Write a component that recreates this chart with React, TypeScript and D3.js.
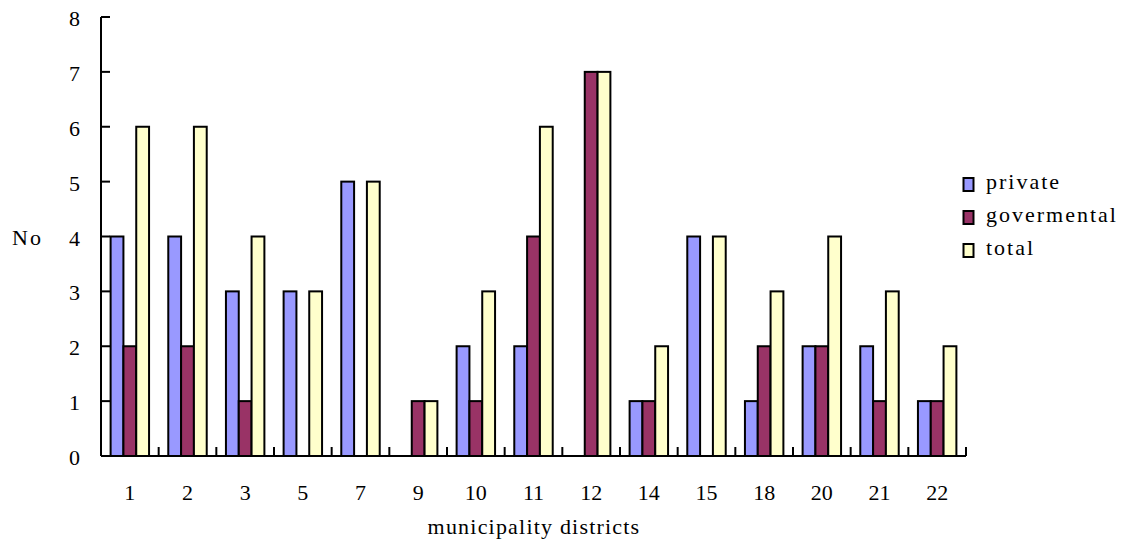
import React from "react";
import * as d3 from "d3";

const categories = ["1", "2", "3", "5", "7", "9", "10", "11", "12", "14", "15", "18", "20", "21", "22"];
const privateVals = [4, 4, 3, 3, 5, 0, 2, 2, 0, 1, 4, 1, 2, 2, 1];
const govVals = [2, 2, 1, 0, 0, 1, 1, 4, 7, 1, 0, 2, 2, 1, 1];
const totalVals = [6, 6, 4, 3, 5, 1, 3, 6, 7, 2, 4, 3, 4, 3, 2];
const seriesNames = ["private", "govermental", "total"];
const seriesColors = ["#9999FF", "#993366", "#FFFFCC"];
const yTicks = [0, 1, 2, 3, 4, 5, 6, 7, 8];

export default function App() {
  const W = 1128, H = 545;
  const left = 101, right = 966, top = 17, bottom = 456;
  const x = d3.scaleBand<string>().domain(categories).range([left, right]).paddingInner(0).paddingOuter(0);
  const y = d3.scaleLinear().domain([0, 8]).range([bottom, top]);
  const series = [privateVals, govVals, totalVals];
  const bw = x.bandwidth();
  const barW = bw / 4.5;
  const off = barW * 0.75;
  const font = "'Liberation Serif', 'Times New Roman', serif";
  const fs = 22;

  return (
    <svg width={W} height={H} style={{ position: "absolute", left: 0, top: 0 }} fontFamily={font}>
      <rect width={W} height={H} fill="#fff" />
      {categories.map((c, i) =>
        series.map((s, k) => {
          const v = s[i];
          if (v <= 0) return null;
          const x0 = (x(c) as number) + off + k * barW;
          return (
            <rect key={c + k} x={x0} y={y(v)} width={barW} height={y(0) - y(v)}
              fill={seriesColors[k]} stroke="#000" strokeWidth={2} />
          );
        })
      )}
      {/* y axis */}
      <line x1={left} x2={left} y1={top} y2={bottom} stroke="#000" strokeWidth={2} />
      {yTicks.map((t) => (
        <g key={t}>
          <line x1={left} x2={left + 9} y1={y(t)} y2={y(t)} stroke="#000" strokeWidth={2} />
          <text x={80} y={y(t) + 9} textAnchor="end" fontSize={fs}>{t}</text>
        </g>
      ))}
      {/* x axis */}
      <line x1={left} x2={right} y1={bottom} y2={bottom} stroke="#000" strokeWidth={2} />
      {categories.map((c) => (
        <g key={c}>
          <line x1={(x(c) as number) + bw} x2={(x(c) as number) + bw} y1={bottom} y2={bottom - 9} stroke="#000" strokeWidth={2} />
          <text x={(x(c) as number) + bw / 2} y={500} textAnchor="middle" fontSize={fs}>{c}</text>
        </g>
      ))}
      <text x={534} y={534} textAnchor="middle" fontSize={fs} letterSpacing={1.2}>municipality districts</text>
      <text x={12} y={245} textAnchor="start" fontSize={fs} letterSpacing={2}>No</text>
      {seriesNames.map((n, k) => (
        <g key={n}>
          <rect x={963.5} y={178 + k * 33} width={10} height={13} fill={seriesColors[k]} stroke="#000" strokeWidth={2} />
          <text x={986} y={189 + k * 33} fontSize={fs} letterSpacing={2}>{n}</text>
        </g>
      ))}
    </svg>
  );
}
